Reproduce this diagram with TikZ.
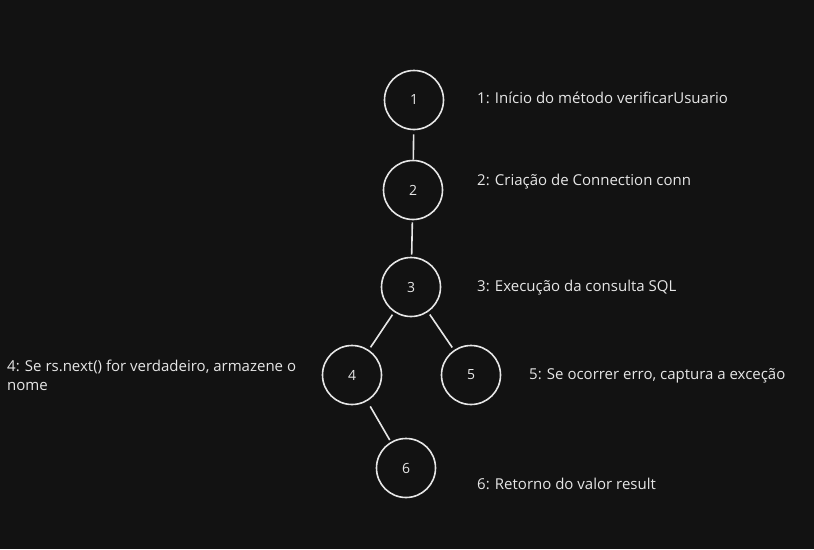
\documentclass[tikz,border=0pt]{standalone}
\usepackage{fontspec}
\setmainfont{Open Sans}
\definecolor{bg}{HTML}{121212}
\definecolor{ink}{HTML}{E6E6E6}
\begin{document}
\begin{tikzpicture}[x=1pt,y=-1pt,
  circ/.style={circle,draw=ink,line width=1.6pt,minimum size=59pt,inner sep=0pt,text=ink,font=\fontsize{14}{16}\selectfont},
  lbl/.style={anchor=west,text=ink,inner sep=0pt,font=\fontsize{15}{19.5}\selectfont},
  conn/.style={draw=ink,line width=1.6pt}]
\fill[bg] (0,0) rectangle (814,549);
\useasboundingbox (0,0) rectangle (814,549);
\node[circ] (n1) at (414,100) {1};
\node[circ] (n2) at (413,190) {2};
\node[circ] (n3) at (411,287) {3};
\node[circ] (n4) at (352,375) {4};
\node[circ] (n5) at (471,375) {5};
\node[circ] (n6) at (406,468) {6};
\draw[conn,shorten <=4pt] (n1) -- (n2);
\draw[conn,shorten <=2pt,shorten >=2pt] (n2) -- (n3);
\draw[conn,shorten <=3pt,shorten >=3pt] (n3) -- (n4);
\draw[conn,shorten <=3pt,shorten >=3pt] (n3) -- (n5);
\draw[conn,shorten <=6pt,shorten >=2pt] (n4) -- (n6);
\node[lbl] (t1) at (477,98) {1: Início do método verificarUsuario};
\node[lbl] (t2) at (477,182) {2: Criação de Connection conn};
\node[lbl] (t3) at (477,288) {3: Execução da consulta SQL};
\node[lbl,align=left,anchor=north west] (t4) at (7,359.5) {4: Se rs.next() for verdadeiro, armazene o\\nome};
\node[lbl] (t5) at (529,376) {5: Se ocorrer erro, captura a exceção};
\node[lbl] (t6) at (477,484) {6: Retorno do valor result};
\end{tikzpicture}
\end{document}
